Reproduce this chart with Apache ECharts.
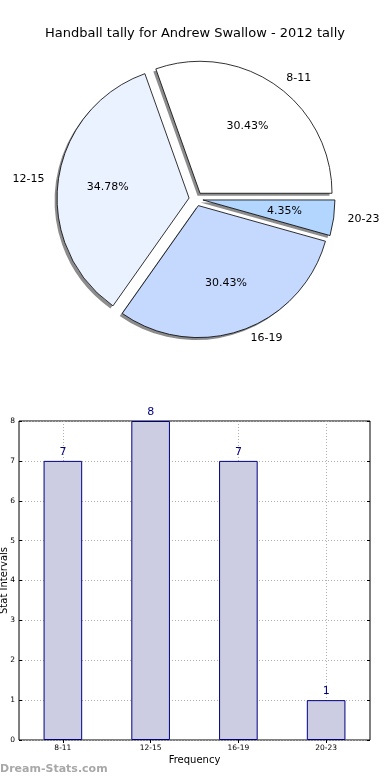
<!DOCTYPE html>
<html>
<head>
<meta charset="utf-8">
<script src="https://cdn.jsdelivr.net/npm/echarts@6/dist/echarts.min.js"></script>
<style>
html,body{margin:0;padding:0;background:#fff;}
#c{width:390px;height:780px;}
</style>
</head>
<body>
<div id="c"></div>
<script>
const titleText = 'Handball tally for Andrew Swallow - 2012 tally';
const categories = ['8-11', '12-15', '16-19', '20-23'];
const counts = [7, 8, 7, 1];
const sliceColors = ['#ffffff', '#ebf2ff', '#c5d9fe', '#b3d6ff'];
const yTicks = [0, 1, 2, 3, 4, 5, 6, 7, 8];
const yAxisName = 'Stat Intervals';
const xAxisName = 'Frequency';
const watermark = 'Dream-Stats.com';

const FONT = 'DejaVu Sans';
const R = 132;
const CENTER = [196, 199];
const OFFSET = 7;
const total = counts.reduce((a, b) => a + b, 0);

const pieData = categories.map((c, i) => ({
  name: c, value: counts[i], selected: true,
  itemStyle: { color: sliceColors[i] }
}));
const plainData = categories.map((c, i) => ({
  name: c, value: counts[i], selected: true
}));

const pieBase = {
  type: 'pie',
  radius: [0, R],
  startAngle: 0, clockwise: false,
  selectedMode: 'multiple', selectedOffset: OFFSET,
  avoidLabelOverlap: false,
  emphasis: { disabled: true }
};

const chart = echarts.init(document.getElementById('c'), null, { renderer: 'canvas' });
chart.setOption({
  animation: false,
  backgroundColor: '#fff',
  title: {
    text: titleText, left: 'center', top: 22,
    textStyle: { fontFamily: FONT, fontSize: 13, fontWeight: 'normal', color: '#000' }
  },
  graphic: [{
    type: 'text', left: 0, top: 764,
    style: { text: watermark, fontFamily: FONT, fontSize: 11, fontWeight: 'bold', fill: '#a8a8a8' }
  }],
  grid: {
    left: 19, right: 20, top: 421, bottom: 40,
    containLabel: false, outerBoundsMode: 'none',
    show: true, borderColor: '#000', borderWidth: 1, backgroundColor: 'transparent'
  },
  xAxis: [{
    type: 'category', data: categories, position: 'bottom',
    name: xAxisName, nameLocation: 'middle', nameGap: 15, nameMoveOverlap: false,
    nameTextStyle: { fontFamily: FONT, fontSize: 10, color: '#000' },
    axisLine: { show: false },
    axisTick: { show: true, inside: true, alignWithLabel: true, length: 3, lineStyle: { color: '#000' } },
    axisLabel: { fontFamily: FONT, fontSize: 7.5, color: '#000', margin: 4 },
    splitLine: { show: true, alignWithLabel: true, lineStyle: { color: '#b0b0b0', type: [1, 2], width: 1 } }
  }, {
    type: 'category', data: categories, position: 'top',
    axisLine: { show: false },
    axisTick: { show: true, inside: true, alignWithLabel: true, length: 3, lineStyle: { color: '#000' } },
    axisLabel: { show: false },
    splitLine: { show: false }
  }],
  yAxis: [{
    type: 'value', min: yTicks[0], max: yTicks[yTicks.length - 1], interval: 1, position: 'left',
    name: yAxisName, nameLocation: 'middle', nameGap: 10, nameRotate: 90, nameMoveOverlap: false,
    nameTextStyle: { fontFamily: FONT, fontSize: 10, color: '#000' },
    axisLine: { show: false },
    axisTick: { show: true, inside: true, length: 3, lineStyle: { color: '#000' } },
    axisLabel: { fontFamily: FONT, fontSize: 7.5, color: '#000', margin: 4 },
    splitLine: { show: true, lineStyle: { color: '#b0b0b0', type: [1, 2], width: 1 } }
  }, {
    type: 'value', min: yTicks[0], max: yTicks[yTicks.length - 1], interval: 1, position: 'right',
    axisLine: { show: false },
    axisTick: { show: true, inside: true, length: 3, lineStyle: { color: '#000' } },
    axisLabel: { show: false },
    splitLine: { show: false }
  }],
  series: [Object.assign({}, pieBase, {
    // shadow layer
    center: [CENTER[0] - 2.5, CENTER[1] + 2.5],
    silent: true,
    data: plainData,
    itemStyle: { color: '#8c8c8c', borderWidth: 0 },
    label: { show: false },
    labelLine: { show: false },
    z: 1
  }), Object.assign({}, pieBase, {
    center: CENTER,
    data: pieData,
    itemStyle: { borderColor: '#000', borderWidth: 0.8 },
    label: {
      show: true, position: 'outside', formatter: '{b}',
      fontFamily: FONT, fontSize: 11, color: '#000'
    },
    labelLine: { show: false, length: 9, length2: 0 },
    z: 2
  }), Object.assign({}, pieBase, {
    center: CENTER,
    radius: [0, R * 1.2],
    silent: true,
    data: plainData,
    itemStyle: { color: 'rgba(0,0,0,0)', borderWidth: 0 },
    label: {
      show: true, position: 'inside',
      formatter: (p) => (p.value / total * 100).toFixed(2) + '%',
      fontFamily: FONT, fontSize: 11, color: '#000'
    },
    labelLine: { show: false },
    z: 3
  }), {
    type: 'bar',
    xAxisIndex: 0, yAxisIndex: 0,
    data: counts,
    barWidth: '44%',
    itemStyle: { color: '#ccccE3', borderColor: '#000080', borderWidth: 1 },
    label: {
      show: true, position: 'top', distance: 3,
      fontFamily: FONT, fontSize: 11, color: '#000080'
    },
    emphasis: { disabled: true },
    z: 2
  }]
});
</script>
</body>
</html>
